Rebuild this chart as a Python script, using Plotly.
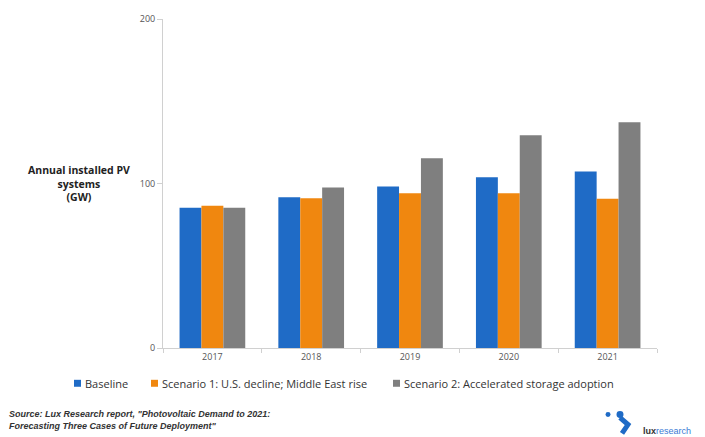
import plotly.graph_objects as go

years = ["2017", "2018", "2019", "2020", "2021"]
baseline = [85.3, 91.7, 98.2, 103.8, 107.3]
scenario1 = [86.5, 91.1, 94.1, 94.1, 90.7]
scenario2 = [85.3, 97.6, 115.3, 129.3, 137.2]
series_names = ["Baseline", "Scenario 1: U.S. decline; Middle East rise",
                "Scenario 2: Accelerated storage adoption"]
colors = ["#1F6BC6", "#F0870F", "#7F7F7F"]
y_ticks = [0, 100, 200]

W, H = 705, 437
L, R, T, B = 163, 48, 17, 89

fig = go.Figure()
for name, vals, c in zip(series_names, [baseline, scenario1, scenario2], colors):
    fig.add_trace(go.Bar(x=years, y=vals, name=name, marker=dict(color=c, line=dict(width=0))))

def px(x):
    return (x - L) / (W - L - R)

def py(y):
    return (H - B - y) / (H - T - B)

fig.update_layout(
    width=W, height=H,
    margin=dict(l=L, r=R, t=T, b=B),
    paper_bgcolor="white", plot_bgcolor="white",
    barmode="group", bargap=0.335, bargroupgap=0,
    font=dict(family="Liberation Sans, Arial", color="#404040"),
    showlegend=False,
    xaxis=dict(type="category", showline=True, linecolor="#D0D0D0", linewidth=1,
               ticks="outside", tickson="boundaries", ticklen=4, tickcolor="#D0D0D0",
               tickfont=dict(size=9, family="Open Sans", color="#555555"), showgrid=False),
    yaxis=dict(range=[0, 200], tickvals=y_ticks, showline=True, linecolor="#D0D0D0",
               linewidth=1, ticks="outside", ticklen=5, tickcolor="#D0D0D0",
               tickfont=dict(size=9, family="Open Sans", color="#555555"),
               showgrid=False, zeroline=False),
)

# legend drawn as squares + labels
legend_x = [74, 151, 393]
for name, c, lx in zip(series_names, colors, legend_x):
    fig.add_shape(type="rect", xref="paper", yref="paper", x0=px(lx), x1=px(lx + 7),
                  y0=py(387), y1=py(380), fillcolor=c, line=dict(width=0))
    fig.add_annotation(text=name, xref="paper", yref="paper", x=px(lx + 9), y=py(383.5),
                       xanchor="left", yanchor="middle", showarrow=False,
                       font=dict(size=11, family="Open Sans", color="#333333"))

fig.add_annotation(text="<b>Annual installed PV<br>systems<br>(GW)</b>", xref="paper", yref="paper",
                   x=px(79), y=py(183), xanchor="center", yanchor="middle", showarrow=False,
                   font=dict(size=10.5, family="Open Sans", color="#222222"), align="center")

fig.add_annotation(text="<b><i>Source: Lux Research report, \"Photovoltaic Demand to 2021:<br>Forecasting Three Cases of Future Deployment\"</i></b>",
                   xref="paper", yref="paper", x=px(7), y=py(420), xanchor="left", yanchor="middle",
                   showarrow=False, align="left",
                   font=dict(size=9, family="Liberation Sans", color="#333333"))

# logo
fig.add_shape(type="circle", xref="paper", yref="paper", x0=px(605.5), x1=px(610.5), y0=py(417.5), y1=py(412.5),
              fillcolor="#1F6BC6", line=dict(width=0))
fig.add_shape(type="circle", xref="paper", yref="paper", x0=px(616.5), x1=px(623.5), y0=py(418.5), y1=py(411.5),
              fillcolor="#1F6BC6", line=dict(width=0))
fig.add_shape(type="path", xref="paper", yref="paper",
              path=f"M {px(620)} {py(418)} L {px(628)} {py(425)} L {px(622)} {py(434)}",
              line=dict(color="#1F6BC6", width=5))
fig.add_annotation(text="<b>lux</b><span style='color:#3A7BD5'>research</span>", xref="paper", yref="paper",
                   x=px(641), y=py(432), xanchor="left", yanchor="middle", showarrow=False,
                   font=dict(size=9, family="Liberation Sans", color="#333333"))

fig.write_html("out.html")
